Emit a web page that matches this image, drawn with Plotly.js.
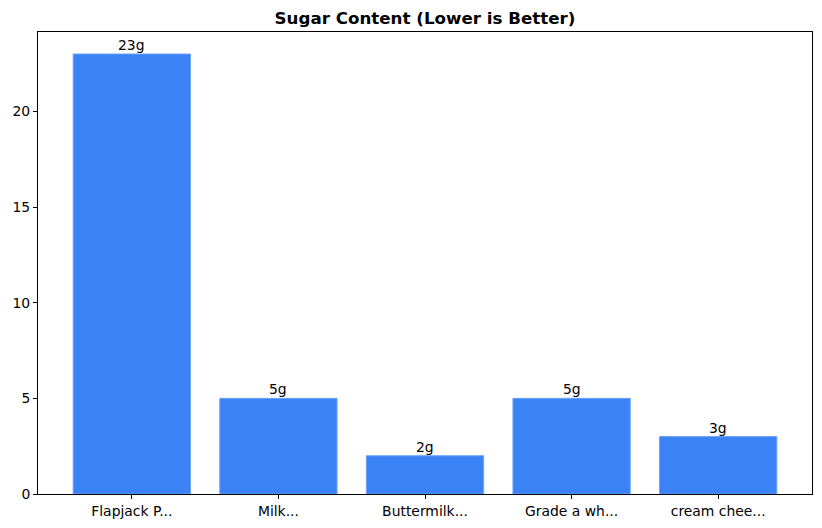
<!DOCTYPE html>
<html>
<head>
<meta charset="utf-8">
<script src="https://cdn.plot.ly/plotly-3.0.1.min.js"></script>
<style>
  html, body { margin: 0; padding: 0; background: #fff; }
  #chart { width: 822px; height: 528px; }
</style>
</head>
<body>
<div id="chart"></div>
<script>
// Sugar content per product (grams)
const products = ["Flapjack P...", "Milk...", "Buttermilk...", "Grade a wh...", "cream chee..."];
const sugar = [23, 5, 2, 5, 3];
const yTicks = [0, 5, 10, 15, 20];

const FONT = "DejaVu Sans, sans-serif";
const BLUE = "#3b82f6";

const idx = products.map((_, i) => i);

const bars = {
  type: "bar",
  x: idx,
  y: sugar,
  width: 0.8,
  marker: { color: BLUE, line: { color: "#6aa2f8", width: 1 } },
  hoverinfo: "skip",
};

// value labels sitting just above each bar
const labels = sugar.map((v, i) => ({
  x: i, y: v, xref: "x", yref: "y",
  text: v + "g",
  showarrow: false,
  yanchor: "bottom",
  yshift: -1,
  font: { family: FONT, size: 13.9, color: "#000" },
}));

Plotly.newPlot("chart", [bars], {
  width: 822,
  height: 528,
  paper_bgcolor: "#fff",
  plot_bgcolor: "#fff",
  margin: { l: 38, r: 10, t: 32, b: 34 },
  font: { family: FONT, size: 13.9, color: "#000" },
  showlegend: false,
  title: {
    text: "<b>Sugar Content (Lower is Better)</b>",
    font: { family: FONT, size: 16.7, color: "#000" },
    xref: "paper", x: 0.5, xanchor: "center",
    yref: "container", y: 1 - 18 / 528, yanchor: "middle",
  },
  xaxis: {
    range: [-0.64, 4.64],
    tickmode: "array",
    tickvals: idx,
    ticktext: products,
    ticks: "outside",
    ticklen: 4,
    tickcolor: "#000",
    showline: true,
    linecolor: "#000",
    linewidth: 1,
    mirror: true,
    showgrid: false,
    zeroline: false,
    fixedrange: true,
  },
  yaxis: {
    range: [0, 24.15],
    tickmode: "array",
    tickvals: yTicks,
    ticks: "outside",
    ticklen: 4,
    tickcolor: "#000",
    showline: true,
    linecolor: "#000",
    linewidth: 1,
    mirror: true,
    showgrid: false,
    zeroline: false,
    fixedrange: true,
  },
  annotations: labels,
}, { displayModeBar: false, staticPlot: true });
</script>
</body>
</html>
